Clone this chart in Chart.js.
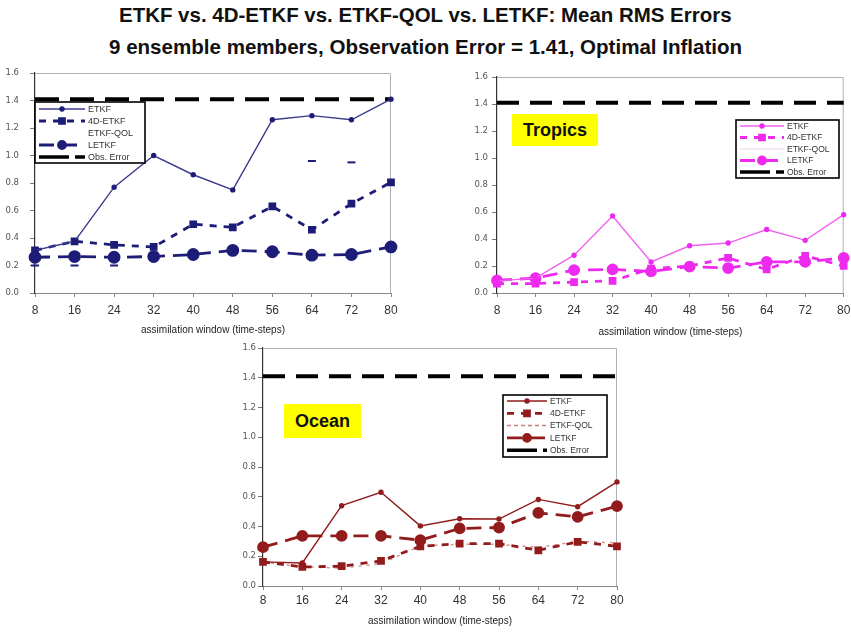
<!DOCTYPE html>
<html><head><meta charset="utf-8">
<script src="https://cdn.jsdelivr.net/npm/chart.js@4/dist/chart.umd.min.js"></script>
<style>
html,body{margin:0;padding:0;background:#fff;}
body{width:851px;height:634px;position:relative;overflow:hidden;font-family:"Liberation Sans",Arial,sans-serif;}
.title{position:absolute;left:0;width:851px;text-align:center;white-space:nowrap;font-weight:bold;color:#111;font-family:"Liberation Sans Narrow","Arial Narrow","Liberation Sans",Arial,sans-serif;}
.title span{display:inline-block;transform-origin:center center;}
.pane{position:absolute;}
.tag{position:absolute;background:#ffff00;font-weight:bold;font-size:18px;color:#111;display:flex;align-items:center;justify-content:center;}
</style></head>
<body>
<div class="title" style="top:3px;font-size:21px;"><span id="t1" data-w="613">ETKF vs. 4D-ETKF vs. ETKF-QOL vs. LETKF: Mean RMS Errors</span></div>
<div class="title" style="top:35px;font-size:21px;"><span id="t2" data-w="633">9 ensemble members, Observation Error = 1.41, Optimal Inflation</span></div>
<div class="pane" style="left:0;top:60px;"><canvas id="c1" width="425" height="285"></canvas></div>
<div class="pane" style="left:430px;top:60px;"><canvas id="c2" width="421" height="285"></canvas></div>
<div class="pane" style="left:210px;top:338px;"><canvas id="c3" width="420" height="296"></canvas></div>
<div class="tag" style="left:512px;top:114px;width:86px;height:32px;">Tropics</div>
<div class="tag" style="left:284px;top:404px;width:77px;height:34px;">Ocean</div>
<script>
// ---------- data ----------
const windows = ['8','16','24','32','40','48','56','64','72','80'];
const seriesNames = ['ETKF','4D-ETKF','ETKF-QOL','LETKF','Obs. Error'];
const obsError = [1.41,1.41,1.41,1.41,1.41,1.41,1.41,1.41,1.41,1.41];

const globalETKF  = [0.31,0.376,0.77,1.00,0.86,0.75,1.26,1.29,1.26,1.41];
const global4D    = [0.31,0.376,0.35,0.335,0.50,0.478,0.63,0.46,0.65,0.805];
const globalQOL   = [0.20,0.20,0.20,null,null,null,null,0.96,0.95,null];
const globalLETKF = [0.26,0.265,0.26,0.265,0.28,0.31,0.30,0.275,0.28,0.335];

const tropicsETKF  = [0.09,0.11,0.28,0.57,0.23,0.35,0.37,0.47,0.39,0.58];
const tropics4D    = [0.07,0.07,0.08,0.09,0.18,0.20,0.26,0.175,0.275,0.20];
const tropicsQOL   = [null,null,null,null,null,null,null,null,null,null];
const tropicsLETKF = [0.094,0.11,0.17,0.175,0.16,0.195,0.185,0.23,0.23,0.26];

const oceanETKF  = [0.162,0.155,0.54,0.63,0.404,0.452,0.45,0.582,0.533,0.70];
const ocean4D    = [0.162,0.128,0.133,0.169,0.267,0.285,0.285,0.24,0.297,0.267];
const oceanQOL   = [0.16,0.13,0.12,0.15,0.27,0.28,0.28,0.26,0.30,0.29];
const oceanLETKF = [0.261,0.337,0.337,0.337,0.308,0.387,0.393,0.492,0.465,0.537];

// ---------- title fit ----------
['t1','t2'].forEach(id=>{const e=document.getElementById(id);const w=+e.dataset.w;const s=w/e.offsetWidth;e.style.transform='scaleX('+s+')';});

// ---------- plugins ----------
const frame = {
  id:'frame',
  beforeDatasetsDraw(chart){
    const a=chart.chartArea,ctx=chart.ctx;
    ctx.save();ctx.strokeStyle='#b0b0b0';ctx.lineWidth=1;ctx.setLineDash([]);
    ctx.beginPath();ctx.moveTo(a.left,a.top+0.5);ctx.lineTo(a.right-0.5,a.top+0.5);ctx.lineTo(a.right-0.5,a.bottom);ctx.stroke();
    ctx.restore();
  }
};
const boxLegend = {
  id:'boxLegend',
  afterDatasetsDraw(chart,args,o){
    if(!o||!o.box) return;
    const ctx=chart.ctx;const b=o.box;
    ctx.save();
    ctx.fillStyle='#fff';ctx.fillRect(b.x,b.y,b.w,b.h);
    ctx.strokeStyle='#000';ctx.lineWidth=1.6;ctx.setLineDash([]);ctx.strokeRect(b.x,b.y,b.w,b.h);
    chart.data.datasets.forEach((ds,i)=>{
      const cy=b.y+o.top+i*o.row;
      const x0=b.x+4,x1=b.x+4+o.sample;
      const col=ds.legendColor||ds.borderColor;
      if(col!=='none'){
        ctx.strokeStyle=col;ctx.lineWidth=ds.legendWidth||ds.borderWidth;
        ctx.setLineDash(ds.legendDash||ds.borderDash||[]);
        ctx.beginPath();ctx.moveTo(x0,cy);ctx.lineTo(x1,cy);ctx.stroke();
        if(ds.legendMarker){
          ctx.setLineDash([]);ctx.fillStyle=ds.pointBackgroundColor||col;ctx.strokeStyle=ds.pointBorderColor||col;
          Chart.helpers.drawPoint(ctx,{pointStyle:ds.pointStyle,radius:ds.legendMarker,rotation:0,borderWidth:1},(x0+x1)/2,cy);
        }
      }
      ctx.setLineDash([]);
      ctx.fillStyle='#333';ctx.font=o.font;ctx.textBaseline='middle';ctx.textAlign='left';
      ctx.fillText(ds.label,x1+3,cy+0.5);
    });
    ctx.restore();
  }
};

function makeDatasets(col, etkf, d4, qol, letkf, st){
  return [
    {label:seriesNames[0],data:etkf,borderColor:st.etkfCol||col,backgroundColor:col,borderWidth:1.4,pointStyle:'circle',pointRadius:2,pointBackgroundColor:col,pointBorderColor:col,legendMarker:2,tension:0,order:1},
    {label:seriesNames[1],data:d4,borderColor:col,backgroundColor:col,borderWidth:2.8,borderDash:st.d4Dash,pointStyle:'rect',pointRadius:3.5,pointBackgroundColor:col,pointBorderColor:col,legendMarker:3.5,tension:0,order:3},
    Object.assign({label:seriesNames[2],data:qol,backgroundColor:col,tension:0,order:4},st.qol),
    {label:seriesNames[3],data:letkf,borderColor:col,backgroundColor:col,borderWidth:2.8,borderDash:st.lDash,pointStyle:'circle',pointRadius:st.lRad,pointBackgroundColor:col,pointBorderColor:col,legendMarker:3.5,tension:0,order:2},
    {label:seriesNames[4],data:obsError,borderColor:'#000',backgroundColor:'#000',borderWidth:4,borderDash:st.obsDash,pointRadius:0,tension:0,order:5,legendWidth:3.5,legendDash:[30,6]}
  ];
}

function makeChart(id, datasets, p){
  return new Chart(document.getElementById(id),{
    type:'line',
    data:{labels:windows,datasets},
    plugins:[frame,boxLegend],
    options:{
      responsive:false,animation:false,
      layout:{padding:p.pad},
      plugins:{legend:{display:false},tooltip:{enabled:false},title:{display:false},
        boxLegend:p.legend},
      elements:{line:{borderCapStyle:'butt'}},
      scales:{
        x:{type:'category',offset:false,
          grid:{display:true,drawOnChartArea:false,drawTicks:true,tickLength:4,color:'#888'},
          border:{display:true,color:'#888',width:1},
          ticks:{font:{family:'"Liberation Sans", Arial, sans-serif',size:12},color:'#333',padding:p.xPad,maxRotation:0,autoSkip:false},
          title:{display:true,text:'assimilation window (time-steps)',font:{family:'"Liberation Sans", Arial, sans-serif',size:10},color:'#222',padding:{top:0,bottom:p.tPad}},
          afterFit(s){s.height=p.xH;s.paddingLeft=0;s.paddingRight=0;}
        },
        y:{min:0,max:1.6,
          grid:{display:true,drawOnChartArea:false,drawTicks:true,tickLength:5,color:'#777'},
          border:{display:true,color:'#333',width:1.2},
          ticks:{stepSize:0.2,font:{family:'"DejaVu Sans", sans-serif',size:8.5},color:'#555',padding:p.yPad,callback:v=>v.toFixed(1)},
          afterFit(s){s.width=p.yW;s.paddingTop=0;s.paddingBottom=0;}
        }
      }
    }
  });
}

const navy='#1d1d78', mag='#ee2aee', red='#921c1c';

makeChart('c1', makeDatasets(navy, globalETKF, global4D, globalQOL, globalLETKF, {
  etkfCol:'#3b3b8e', d4Dash:[7,7], lDash:[15,8], lRad:5, obsDash:[24,11],
  qol:{borderColor:navy,borderWidth:2,showLine:false,pointStyle:'line',pointRadius:4,pointBorderWidth:2,pointBorderColor:navy,legendColor:'none'}
}), {pad:{left:0,top:13,right:34,bottom:7},xH:45,yW:35,xPad:6,tPad:2,yPad:11,
  legend:{box:{x:35,y:42,w:110,h:61},top:7,row:12,sample:46,font:'9px "Liberation Sans", Arial, sans-serif'}});

makeChart('c2', makeDatasets(mag, tropicsETKF, tropics4D, tropicsQOL, tropicsLETKF, {
  etkfCol:'#f060f0', d4Dash:[7,7], lDash:[15,8], lRad:4.5, obsDash:[22,11],
  qol:{borderColor:'#f2c8f2',borderWidth:1,pointRadius:0,legendColor:'#e8d0e8'}
}), {pad:{left:0,top:17,right:2,bottom:7},xH:45,yW:67,xPad:6,tPad:0,yPad:4,
  legend:{box:{x:306,y:60,w:103,h:58},top:6,row:11.5,sample:44,font:'8.5px "Liberation Sans", Arial, sans-serif'}});

makeChart('c3', makeDatasets(red, oceanETKF, ocean4D, oceanQOL, oceanLETKF, {
  etkfCol:red, d4Dash:[7,7], lDash:[15,8], lRad:4.5, obsDash:[22,11],
  qol:{borderColor:'rgba(200,120,120,0.8)',borderWidth:1.5,borderDash:[3,5],pointRadius:0,legendDash:[4,3],legendColor:'#c08080'}
}), {pad:{left:0,top:10,right:13,bottom:0},xH:48,yW:53,xPad:3,tPad:7,yPad:2,
  legend:{box:{x:293,y:57,w:104,h:62},top:6,row:12.3,sample:40,font:'8.5px "Liberation Sans", Arial, sans-serif'}});
</script>
</body></html>
